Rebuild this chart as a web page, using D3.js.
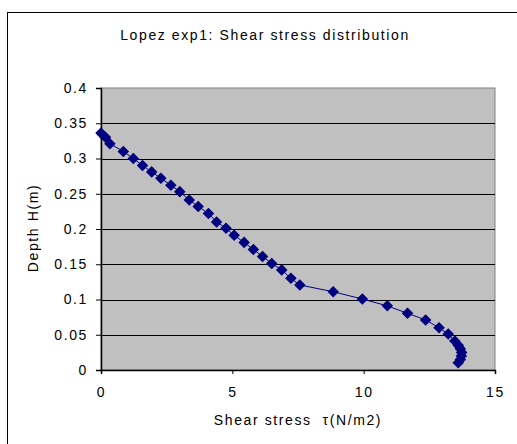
<!DOCTYPE html>
<html lang="en">

<head>
    <meta charset="UTF-8">
    <title>Lopez exp1: Shear stress distribution</title>
    <script src="https://d3js.org/d3.v7.min.js"></script>
    <style>
        body {
            margin: 0;
            background: #fff;
        }

        text {
            font-family: "Liberation Sans", Arial, sans-serif;
            font-size: 14px;
            letter-spacing: 1.6px;
            fill: #000;
            white-space: pre;
        }
    </style>
</head>

<body>
    <svg id="chart"></svg>

    <script>
        // Shear stress (N/m2) and depth (m)
        const shearStress = [0, 0.17, 0.34, 0.85, 1.23, 1.58, 1.93, 2.28, 2.66, 3.0, 3.36, 3.7, 4.09, 4.4,
            4.76, 5.07, 5.45, 5.8, 6.15, 6.5, 6.88, 7.23, 7.57, 8.84, 9.95, 10.9, 11.67, 12.36,
            12.87, 13.22, 13.47, 13.6, 13.68, 13.73, 13.72, 13.68, 13.6];
        const depth = [0.336, 0.33, 0.321, 0.31, 0.30, 0.29, 0.281, 0.272, 0.262, 0.253, 0.241, 0.232, 0.222, 0.21,
            0.201, 0.191, 0.181, 0.171, 0.161, 0.151, 0.142, 0.13, 0.1206, 0.111, 0.1007, 0.091, 0.0804, 0.071,
            0.06, 0.051, 0.041, 0.035, 0.03, 0.025, 0.02, 0.015, 0.0104];
        const xTicks = [0, 5, 10, 15];
        const yTicks = [0, 0.05, 0.1, 0.15, 0.2, 0.25, 0.3, 0.35, 0.4];

        const width = 517, height = 444;
        const svg = d3.select("#chart").attr("width", width).attr("height", height);

        // chart frame (only top and left edges are inside the window)
        svg.append("rect")
            .attr("x", 7.5).attr("y", 12.5)
            .attr("width", 600).attr("height", 500)
            .attr("fill", "#fff")
            .attr("stroke", "#000")
            .attr("stroke-width", 1);

        const plot = { left: 101, right: 495, top: 88, bottom: 370 };

        const x = d3.scaleLinear().domain([0, 15]).range([plot.left, plot.right]);
        const y = d3.scaleLinear().domain([0, 0.4]).range([plot.bottom, plot.top]);

        // plot area
        svg.append("rect")
            .attr("x", plot.left).attr("y", plot.top)
            .attr("width", plot.right - plot.left).attr("height", plot.bottom - plot.top)
            .attr("fill", "#c0c0c0")
            .attr("stroke", "#808080")
            .attr("stroke-width", 1);

        // gridlines
        svg.append("g")
            .selectAll("line")
            .data(yTicks.filter(d => d > 0 && d < 0.4))
            .join("line")
            .attr("x1", plot.left).attr("x2", plot.right)
            .attr("y1", d => Math.round(y(d)) + 0.5).attr("y2", d => Math.round(y(d)) + 0.5)
            .attr("stroke", "#000")
            .attr("stroke-width", 1.2);

        // axes
        const yAxis = svg.append("g")
            .attr("transform", `translate(${plot.left},0)`)
            .call(d3.axisLeft(y).tickValues(yTicks).tickSize(5).tickPadding(8).tickFormat(d => d));
        const xAxis = svg.append("g")
            .attr("transform", `translate(0,${plot.bottom})`)
            .call(d3.axisBottom(x).tickValues(xTicks).tickSize(4).tickPadding(13).tickFormat(d => d));

        [xAxis, yAxis].forEach(a => {
            a.select(".domain").attr("stroke", "#000").attr("stroke-width", 1.5);
            a.selectAll(".tick line").attr("stroke", "#000");
            a.selectAll("text").attr("font-family", null).attr("font-size", null);
        });

        // series
        const points = shearStress.map((v, i) => [v, depth[i]]);

        svg.append("path")
            .datum(points)
            .attr("d", d3.line().x(d => x(d[0])).y(d => y(d[1])))
            .attr("fill", "none")
            .attr("stroke", "#000080")
            .attr("stroke-width", 1);

        svg.append("g")
            .selectAll("path")
            .data(points)
            .join("path")
            .attr("d", d3.symbol(d3.symbolDiamond2, 85))
            .attr("transform", d => `translate(${x(d[0])},${y(d[1])})`)
            .attr("fill", "#000080");

        // titles
        svg.append("text")
            .attr("x", 265).attr("y", 40)
            .attr("text-anchor", "middle")
            .text("Lopez exp1: Shear stress distribution");

        svg.append("text")
            .attr("x", (plot.left + plot.right) / 2).attr("y", 425)
            .attr("text-anchor", "middle")
            .text("Shear stress  τ(N/m2)");

        svg.append("text")
            .attr("transform", "translate(38,228) rotate(-90)")
            .attr("text-anchor", "middle")
            .text("Depth H(m)");
    </script>
</body>

</html>
